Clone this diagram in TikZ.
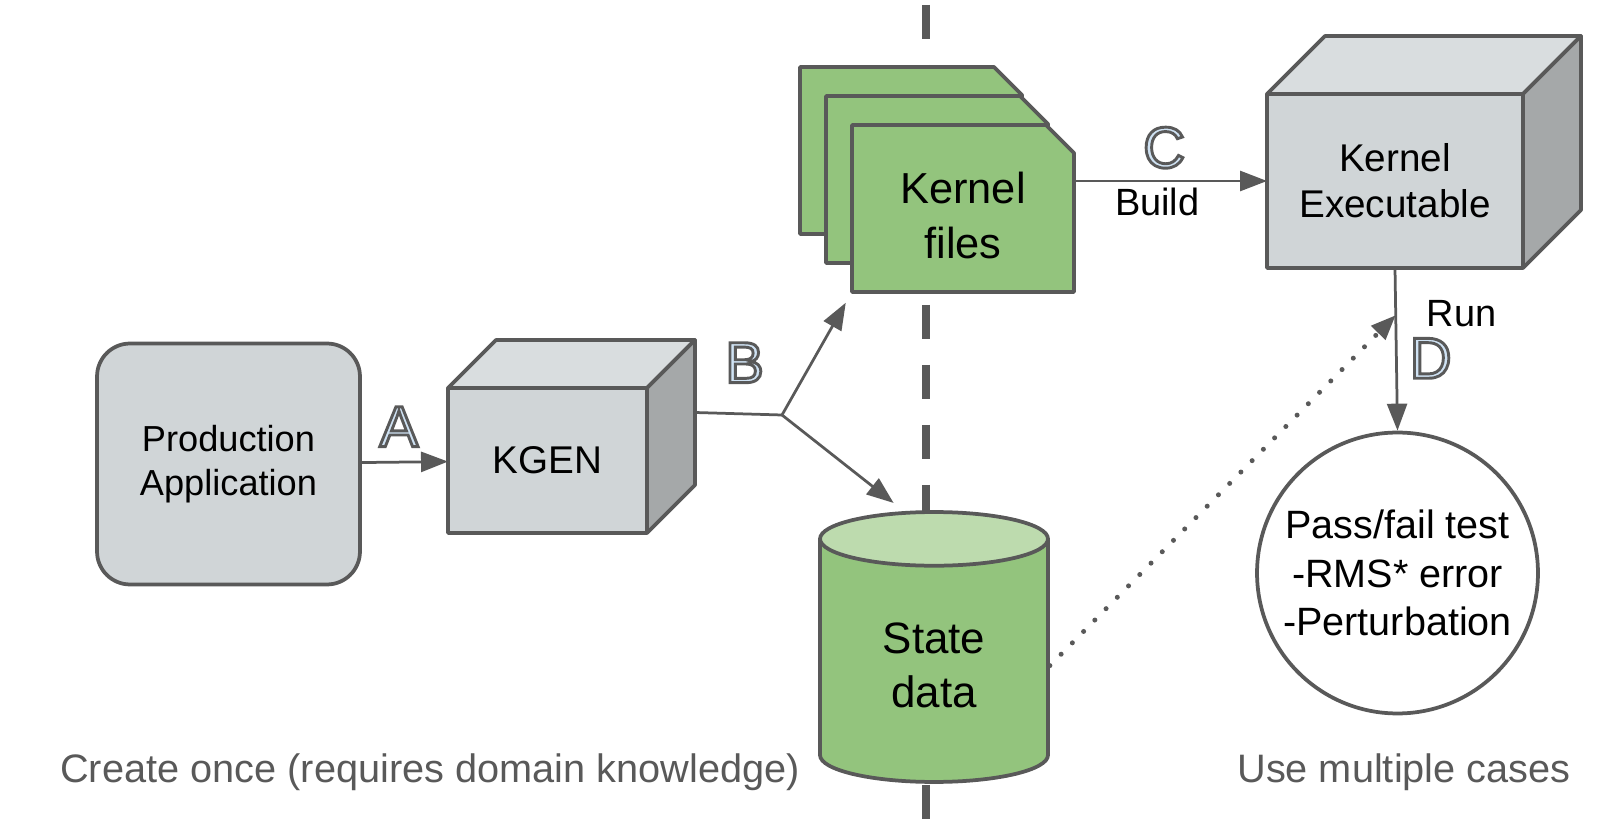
\documentclass[tikz,border=0pt]{standalone}
\usepackage{fontspec}
\setmainfont{Liberation Sans}
\usetikzlibrary{arrows.meta, shapes.geometric, calc}

\definecolor{linegray}{HTML}{595959}
\definecolor{boxfront}{HTML}{D0D5D7}
\definecolor{boxtop}{HTML}{D9DDDF}
\definecolor{boxside}{HTML}{A5A8A9}
\definecolor{filegreen}{HTML}{93C47D}
\definecolor{lidgreen}{HTML}{BDDBAE}

% outlined step letter: gray stroke, light blue fill
\newcommand{\steptag}[1]{{\color{linegray}\addfontfeature{FakeBold=5}\special{pdf:literal direct 0.812 0.886 0.953 rg}#1}}

\tikzset{
    rim/.style={draw=linegray, line width=0.075cm, line join=round},
    cube/.style={rim, fill=boxfront, outer sep=0, align=center, font=\fontsize{22}{26}\selectfont},
    filesheet/.pic={
        \draw[rim, fill=filegreen] (-111, -83.5) -- (83, -83.5) -- (111, -55.5) -- (111, 83.5) -- (-111, 83.5) -- cycle;
    },
    conn/.style={draw=linegray, line width=0.055cm, -{Triangle[length=0.54cm, width=0.4cm]}},
    letter/.style={inner sep=0, font=\fontsize{33}{33}\selectfont},
    tag/.style={inner sep=0, font=\fontsize{21.6}{26}\selectfont},
    note/.style={anchor=base, text=linegray, font=\fontsize{22.6}{27}\selectfont}
}

% top and side faces of a box node
\newcommand{\cubedepth}[2]{%
    \draw[rim, fill=boxtop] (#1.north west) -- ++(#2, -#2) -- ([shift={(#2, -#2)}]#1.north east) -- (#1.north east) -- cycle;
    \draw[rim, fill=boxside] (#1.north east) -- ([shift={(#2, -#2)}]#1.north east) -- ([shift={(#2, -#2)}]#1.south east) -- (#1.south east) -- cycle;
}

\begin{document}
\begin{tikzpicture}[x=0.02cm, y=-0.02cm]
    \useasboundingbox (0, 0) rectangle (1613, 820);
    % divider
    \draw[linegray, line width=0.16cm, dash pattern=on 0.68cm off 0.52cm] (926, 5) -- (926, 820);

    \node[rim, fill=boxfront, rounded corners=0.66cm, minimum width=5.26cm, minimum height=4.82cm,
        align=center, font=\fontsize{20.6}{25}\selectfont] (prod) at (228.5, 464) {Production\\Application};

    \node[cube, minimum width=3.98cm, minimum height=2.9cm] (kgen) at (547.5, 460.5) {KGEN};
    \cubedepth{kgen}{48}

    \pic at (911, 150.5) {filesheet};
    \pic at (937, 179.5) {filesheet};
    \pic at (963, 208.5) {filesheet};
    \node[minimum width=4.44cm, minimum height=3.34cm, align=center,
        font=\fontsize{24.7}{31}\selectfont] (files) at (963, 208.5) {\rule{0pt}{26pt}Kernel\\files};

    \node[rim, cylinder, shape border rotate=90, aspect=0.47, cylinder uses custom fill,
        cylinder body fill=filegreen, cylinder end fill=lidgreen,
        minimum width=4.56cm, minimum height=5.4cm, align=center, anchor=shape center,
        font=\fontsize{25}{31}\selectfont] (state) at (934, 647) {State\\data};

    \node[cube, minimum width=5.12cm, minimum height=3.48cm] (kexec) at (1395, 181) {Kernel\\Executable};
    \cubedepth{kexec}{58}

    \node[rim, circle, fill=white, minimum size=5.62cm, align=center,
        font=\fontsize{22.5}{27.5}\selectfont] (test) at (1397.5, 573) {Pass/fail test\\-RMS* error\\-Perturbation};

    % A
    \draw[conn] (prod) -- node[letter, pos=0.43, above=8pt] (stepA) {\steptag{A}} (kgen);
    % B
    \coordinate (kside) at ([shift={(48, -48)}]kgen.east);
    \coordinate (fork) at (782, 415);
    \draw[linegray, line width=0.055cm] (kside) -- node[letter, pos=0.57, above=17pt] (stepB) {\steptag{B}} (fork);
    \draw[conn, shorten >=6.8pt] (fork) -- (files.south west);
    \draw[conn, shorten >=7.5pt] (fork) -- (state.101);
    % C
    \draw[conn] (kexec.west -| files.east) --
        node[letter, pos=0.466, above=6.5pt] (stepC) {\steptag{C}}
        node[tag, pos=0.43, below=3.4pt] (build) {Build} (kexec.west);
    % D
    \draw[conn] (kexec.south) -- coordinate[pos=0.29] (tap)
        node[tag, pos=0.28, right=17pt] (run) {Run}
        node[letter, pos=0.555, right=6.8pt] (stepD) {\steptag{D}} (test.north);
    \draw[linegray, line width=0.1cm, line cap=round, dash pattern=on 0pt off 0.32cm,
        -{Triangle[length=0.5cm, width=0.38cm]}] (state.east) -- (tap);

    \node[note] (once) at (430, 782) {Create once (requires domain knowledge)};
    \node[note] (cases) at (1404, 782) {Use multiple cases};
\end{tikzpicture}
\end{document}
